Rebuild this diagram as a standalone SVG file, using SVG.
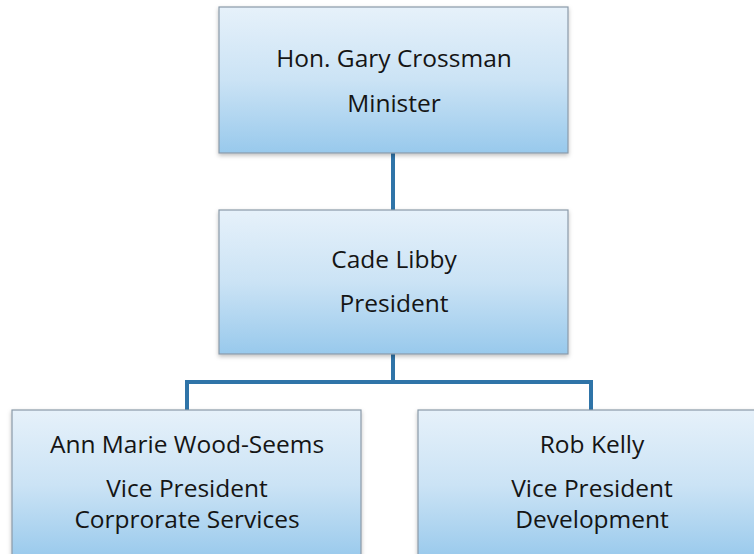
<svg xmlns="http://www.w3.org/2000/svg" width="754" height="554" viewBox="0 0 754 554">
<defs>
<linearGradient id="g" x1="0" y1="0" x2="0" y2="1">
<stop offset="0" stop-color="#e6f1fa"/>
<stop offset="0.5" stop-color="#cbe3f5"/>
<stop offset="1" stop-color="#98c9ec"/>
</linearGradient>
<filter id="sh" x="-5%" y="-5%" width="110%" height="115%">
<feDropShadow dx="0" dy="2" stdDeviation="2" flood-color="#000" flood-opacity="0.25"/>
</filter>
</defs>
<style>
.box{fill:url(#g);stroke:#8a9aa8;stroke-width:1.2;filter:url(#sh)}
.t{font-family:"Open Sans","Liberation Sans",sans-serif;font-size:24.5px;fill:#151515;text-anchor:middle}
.c{stroke:#2f74a8;stroke-width:4;fill:none}
</style>
<rect width="754" height="554" fill="#ffffff"/>
<g id="connectors">
<line class="c" x1="393" y1="153" x2="393" y2="210"/>
<line class="c" x1="393" y1="354" x2="393" y2="382"/>
<line class="c" x1="185" y1="382" x2="593" y2="382"/>
<line class="c" x1="187" y1="380" x2="187" y2="411"/>
<line class="c" x1="591" y1="380" x2="591" y2="411"/>
</g>
<g id="minister">
<rect class="box" x="219" y="7" width="349" height="146"/>
<text class="t" x="394" y="67">Hon. Gary Crossman</text>
<text class="t" x="394" y="112">Minister</text>
</g>
<g id="president">
<rect class="box" x="219" y="210" width="349" height="144"/>
<text class="t" x="394" y="268">Cade Libby</text>
<text class="t" x="394" y="312">President</text>
</g>
<g id="vp-corporate">
<rect class="box" x="12" y="410" width="349" height="150"/>
<text class="t" x="187" y="453">Ann Marie Wood-Seems</text>
<text class="t" x="187" y="497">Vice President</text>
<text class="t" x="187" y="528">Corprorate Services</text>
</g>
<g id="vp-development">
<rect class="box" x="418" y="410" width="345" height="150"/>
<text class="t" x="592" y="453">Rob Kelly</text>
<text class="t" x="592" y="497">Vice President</text>
<text class="t" x="592" y="528">Development</text>
</g>
</svg>
